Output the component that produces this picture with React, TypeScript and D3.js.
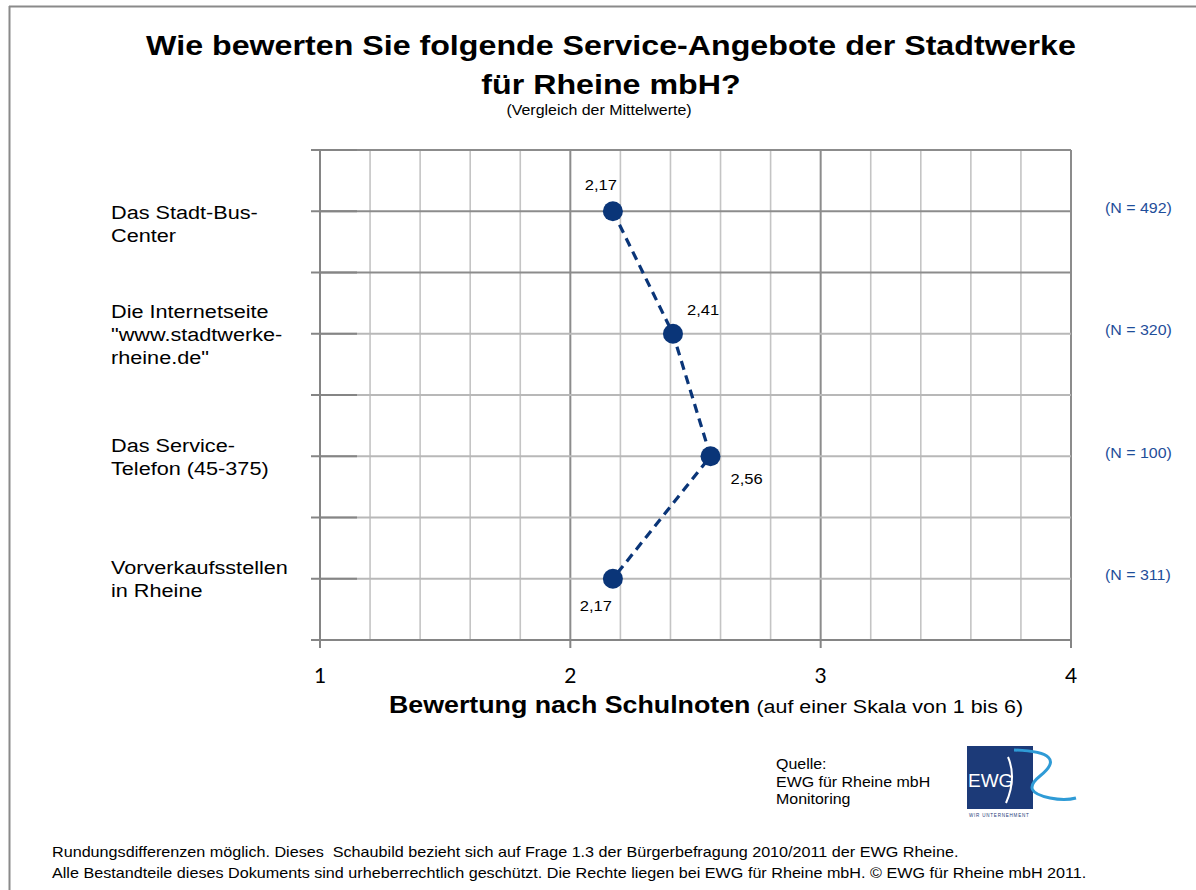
import React from "react";
import * as d3 from "d3";

const categories = [
  ["Das Stadt-Bus-", "Center"],
  ["Die Internetseite", "\"www.stadtwerke-", "rheine.de\""],
  ["Das Service-", "Telefon (45-375)"],
  ["Vorverkaufsstellen", "in Rheine"],
];
const categoryKeys = ["bus", "web", "tel", "vvk"];
const values = [2.17, 2.41, 2.56, 2.17];
const valueLabels = ["2,17", "2,41", "2,56", "2,17"];
const nLabels = ["(N = 492)", "(N = 320)", "(N = 100)", "(N = 311)"];
const xTickLabels = ["1", "2", "3", "4"];

const titleLines = [
  "Wie bewerten Sie folgende Service-Angebote der Stadtwerke",
  "für Rheine mbH?",
];
const subtitle = "(Vergleich der Mittelwerte)";
const axisTitleBold = "Bewertung nach Schulnoten";
const axisTitleRest = " (auf einer Skala von 1 bis 6)";
const sourceLines = ["Quelle:", "EWG für Rheine mbH", "Monitoring"];
const footerLines = [
  "Rundungsdifferenzen möglich. Dieses  Schaubild bezieht sich auf Frage 1.3 der Bürgerbefragung 2010/2011 der EWG Rheine.",
  "Alle Bestandteile dieses Dokuments sind urheberrechtlich geschützt. Die Rechte liegen bei EWG für Rheine mbH. © EWG für Rheine mbH 2011.",
];

const W = 1196;
const H = 890;
const FONT = "'Liberation Sans', Arial, Helvetica, sans-serif";
const NAVY = "#0a3578";
const SX = 1.14;

function SText(props: {
  x: number;
  y: number;
  sx?: number;
  anchor?: string;
  size: number;
  weight?: string;
  fill?: string;
  family?: string;
  children: any;
}) {
  const { x, y, sx = SX, anchor = "start", size, weight, fill = "#000", family, children } = props;
  return (
    <text
      transform={`translate(${x},${y}) scale(${sx},1)`}
      textAnchor={anchor as any}
      fontSize={size}
      fontWeight={weight}
      fill={fill}
      fontFamily={family}
      style={{ whiteSpace: "pre" }}
    >
      {children}
    </text>
  );
}

export default function App() {
  const x = d3.scaleLinear().domain([1, 4]).range([320, 1071]);
  const y = d3.scaleBand<string>().domain(categoryKeys).range([150, 640]).paddingInner(0);
  const bw = y.bandwidth();
  const cy = (i: number) => (y(categoryKeys[i]) as number) + bw / 2;

  const minor = x.ticks(15);
  const major = x.ticks(3);
  const hLines: { v: number; dark: boolean }[] = [];
  categoryKeys.forEach((k, i) => {
    const top = y(k) as number;
    hLines.push({ v: top, dark: i === 0 || i === 1 });
    hLines.push({ v: top + bw / 2, dark: i === 0 });
  });
  hLines.push({ v: 640, dark: true });

  const line = d3
    .line<number>()
    .x((d) => x(d))
    .y((_, i) => cy(i));

  const labelOffsets = [
    { dx: 4, dy: -21, anchor: "end" },
    { dx: 14, dy: -19, anchor: "start" },
    { dx: 20, dy: 28, anchor: "start" },
    { dx: -1, dy: 32, anchor: "end" },
  ];

  return (
    <svg
      width={W}
      height={H}
      style={{ position: "absolute", left: 0, top: 0, background: "#fff" }}
      fontFamily={FONT}
    >
      {/* outer frame */}
      <line x1={9} y1={6.5} x2={W} y2={6.5} stroke="#8a8a8a" strokeWidth={2} />
      <line x1={9.5} y1={6} x2={9.5} y2={H} stroke="#8a8a8a" strokeWidth={2} />

      {/* title */}
      {titleLines.map((t, i) => (
        <SText key={i} x={611} y={55 + i * 39} anchor="middle" size={28.5} weight="bold" sx={1.13}>
          {t}
        </SText>
      ))}
      <SText x={599} y={115} anchor="middle" size={14}>
        {subtitle}
      </SText>

      {/* vertical gridlines */}
      {minor.map((t, i) => {
        const isMajor = major.some((m) => Math.abs(m - t) < 1e-9);
        return (
          <line
            key={"v" + i}
            x1={x(t)}
            x2={x(t)}
            y1={150}
            y2={640}
            stroke={isMajor ? "#8c8c8c" : "#c4c4c4"}
            strokeWidth={isMajor ? 2 : 1.6}
          />
        );
      })}
      {/* horizontal gridlines */}
      {hLines.map((h, i) => (
        <g key={"h" + i}>
          <line
            x1={320}
            x2={1071}
            y1={h.v}
            y2={h.v}
            stroke={h.dark ? "#8c8c8c" : "#b8b8b8"}
            strokeWidth={2}
          />
          <line x1={311} x2={357} y1={h.v} y2={h.v} stroke="#858585" strokeWidth={2} />
        </g>
      ))}
      {/* axes */}
      <line x1={320} x2={320} y1={150} y2={648} stroke="#858585" strokeWidth={2} />
      <line x1={311} x2={1071} y1={640} y2={640} stroke="#858585" strokeWidth={2} />
      {major.map((t, i) => (
        <g key={"xt" + i}>
          <line x1={x(t)} x2={x(t)} y1={640} y2={648} stroke="#858585" strokeWidth={2} />
          <text
            x={x(t)}
            y={683}
            textAnchor="middle"
            fontSize={21}
            fontFamily="Lato, 'Open Sans', sans-serif"
            fill="#000"
          >
            {xTickLabels[i]}
          </text>
        </g>
      ))}

      {/* axis title */}
      <text transform={`translate(706,713) scale(${SX},1)`} textAnchor="middle" fill="#000" style={{ whiteSpace: "pre" }}>
        <tspan fontWeight="bold" fontSize={23.5}>
          {axisTitleBold}
        </tspan>
        <tspan fontSize={18.8}>{axisTitleRest}</tspan>
      </text>

      {/* category labels */}
      {categories.map((lines, i) => {
        const shift = i === 0 ? 12 : 0;
        const start = cy(i) - ((lines.length - 1) * 23) / 2 + shift;
        return (
          <g key={"c" + i}>
            {lines.map((l, j) => (
              <SText key={j} x={111} y={start + j * 23 + 7} size={19}>
                {l}
              </SText>
            ))}
          </g>
        );
      })}

      {/* N labels */}
      {nLabels.map((n, i) => (
        <SText key={"n" + i} x={1105} y={cy(i) + 1.5} size={14} fill="#1f4e9a">
          {n}
        </SText>
      ))}

      {/* data line */}
      <path
        d={line(values) || ""}
        fill="none"
        stroke={NAVY}
        strokeWidth={3.2}
        strokeDasharray="9,6"
      />
      {values.map((v, i) => (
        <circle key={"p" + i} cx={x(v)} cy={cy(i)} r={10} fill={NAVY} />
      ))}
      {values.map((v, i) => (
        <SText
          key={"l" + i}
          x={x(v) + labelOffsets[i].dx}
          y={cy(i) + labelOffsets[i].dy}
          anchor={labelOffsets[i].anchor}
          size={14.5}
        >
          {valueLabels[i]}
        </SText>
      ))}

      {/* source */}
      {sourceLines.map((s, i) => (
        <SText key={"s" + i} x={776} y={769 + i * 17.5} size={14}>
          {s}
        </SText>
      ))}

      {/* logo */}
      <g>
        <rect x={967} y={746} width={66} height={63} fill="#1c3a78" />
        <text x={968} y={787} fontSize={19} fill="#fff" fontFamily="'Liberation Sans Narrow', 'Liberation Sans', sans-serif">
          EWG
        </text>
        <path d="M1008,757 Q1017,778 1006,803" fill="none" stroke="#fff" strokeWidth={2} />
        <path
          d="M1014,750 Q1070,752 1040,776 Q1020,792 1050,798 Q1065,801 1076,798"
          fill="none"
          stroke="#2f9bd6"
          strokeWidth={3}
        />
        <text x={969} y={817} fontSize={4.5} fill="#1c3a78" letterSpacing={0.8}>
          WIR UNTERNEHMENT
        </text>
      </g>

      {/* footer */}
      {footerLines.map((f, i) => (
        <SText key={"f" + i} x={52} y={857 + i * 21} size={14} sx={1.155}>
          {f}
        </SText>
      ))}
    </svg>
  );
}
